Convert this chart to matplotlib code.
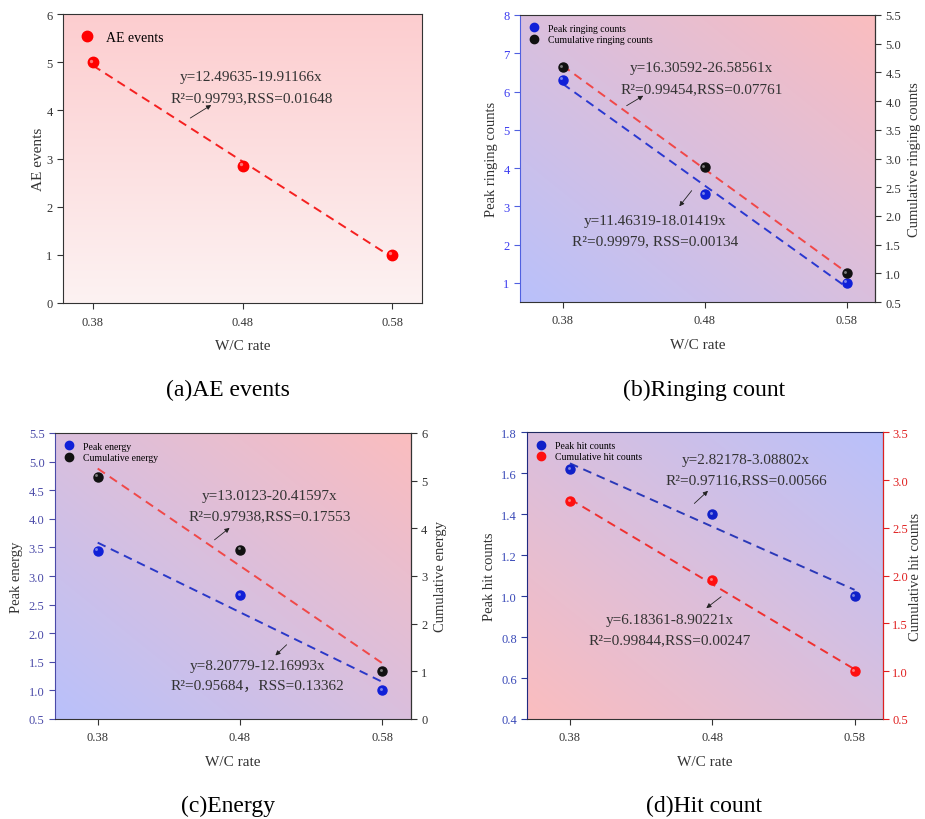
import numpy as np
import matplotlib.pyplot as plt
import matplotlib.colors as mcolors
from matplotlib.lines import Line2D
from matplotlib.transforms import offset_copy

plt.rcParams['font.family'] = ['Liberation Serif', 'Noto Sans CJK SC']

# ---- data ----
wc = [0.38, 0.48, 0.58]
wc_labels = ['0.38', '0.48', '0.58']

ae_events = [5.0, 2.85, 1.0]
ae_fit = (12.49635, -19.91166)

peak_ringing = [6.31, 3.32, 1.0]
cum_ringing = [4.59, 2.85, 1.0]
peak_ringing_fit = (16.30592, -26.58561)
cum_ringing_fit = (11.46319, -18.01419)

peak_energy = [3.44, 2.66, 1.0]
cum_energy = [5.08, 3.55, 1.0]
peak_energy_fit = (8.20779, -12.16993)
cum_energy_fit = (13.0123, -20.41597)

peak_hits = [1.62, 1.40, 1.0]
cum_hits = [2.78, 1.95, 1.0]
peak_hits_fit = (2.82178, -3.08802)
cum_hits_fit = (6.18361, -8.90221)

BLUE_BG = '#b9c1fb'
PINK_BG = '#fbbdbf'
DARK = '#333333'


def gradient(ax, c_from, c_to, mode='diag'):
    u = np.linspace(0, 1, 256)
    U, V = np.meshgrid(u, u)
    t = V if mode == 'vertical' else (U + V) / 2
    c0 = np.array(mcolors.to_rgb(c_from))
    c1 = np.array(mcolors.to_rgb(c_to))
    img = c0 + (c1 - c0) * t[..., None]
    ax.imshow(img, extent=(0, 1, 0, 1), transform=ax.transAxes, origin='lower',
              aspect='auto', zorder=0, interpolation='bilinear')


def balls(ax, x, y, color, size=7):
    # sphere-like marker: base dot plus a small highlight
    ax.plot(x, y, 'o', color=color, ms=size, mec=color, zorder=5, ls='none')
    hl = offset_copy(ax.transData, fig=ax.figure, x=-size * 0.16, y=size * 0.16, units='points')
    light = 0.55 * np.array(mcolors.to_rgb(color)) + 0.45
    ax.plot(x, y, 'o', color=light, ms=size * 0.32, mew=0, transform=hl, zorder=6, ls='none')


def fit_line(ax, fit, color):
    xs = np.array([wc[0], wc[-1]])
    ax.plot(xs, fit[0] + fit[1] * xs, ls=(0, (4.5, 3)), color=color, lw=1.4, zorder=3)


def note(ax, text, xy, head, tail, ha='center'):
    ax.text(xy[0], xy[1], text, ha=ha, va='center', fontsize=11, color=DARK,
            linespacing=1.75, zorder=7)
    ax.annotate('', xy=head, xytext=tail,
                arrowprops=dict(arrowstyle='-|>', color='#222222', lw=0.6,
                                mutation_scale=7, shrinkA=0, shrinkB=0), zorder=7)


def style_x(ax):
    ax.set_xlim(0.35, 0.60)
    ax.set_xticks(wc)
    ax.set_xticklabels(wc_labels)
    ax.set_xlabel('W/C rate', fontsize=11, color=DARK, labelpad=8)
    ax.tick_params(axis='x', direction='out', length=4, labelsize=9, colors=DARK, pad=5)


def small_legend(ax, colors, labels):
    ax.legend([Line2D([], [], marker='o', ls='none', color=c, ms=6) for c in colors], labels,
              loc='upper left', frameon=False, fontsize=7, handlelength=1.0,
              handletextpad=1.0, borderaxespad=0.6, borderpad=0.3, labelspacing=0.25)


fig = plt.figure(figsize=(9.25, 8.2), dpi=100)

# ---------- (a) AE events ----------
ax = fig.add_axes([63 / 925, 1 - 304 / 820, 359 / 925, 289 / 820])
gradient(ax, '#fdf2f2', '#fccdcf', mode='vertical')
fit_line(ax, ae_fit, '#f52020')
balls(ax, wc, ae_events, '#ff0000', size=7.5)
style_x(ax)
ax.set_xlim(0.36, 0.60)
ax.set_ylim(0, 6)
ax.set_yticks(range(0, 7))
ax.set_ylabel('AE events', fontsize=11, color=DARK, labelpad=1)
ax.tick_params(axis='y', direction='out', length=4, labelsize=9, colors=DARK)
for s in ax.spines.values():
    s.set_color(DARK)
ax.legend([Line2D([], [], marker='o', ls='none', color='#ff0000', ms=7.5)], ['AE events'],
          loc='upper left', frameon=False, fontsize=10, handlelength=1.0,
          handletextpad=0.9, borderaxespad=0.8, borderpad=0.4)
note(ax, 'y=12.49635-19.91166x\nR²=0.99793,RSS=0.01648', (0.486, 4.48),
     head=(0.4591, 4.11), tail=(0.4451, 3.84))

# ---------- (b) Ringing count ----------
ax = fig.add_axes([520 / 925, 1 - 303 / 820, 355 / 925, 287 / 820])
ax2 = ax.twinx()
gradient(ax, BLUE_BG, PINK_BG)
fit_line(ax, peak_ringing_fit, '#2a38d0')
fit_line(ax2, cum_ringing_fit, '#f04848')
balls(ax, wc, peak_ringing, '#1020d8', size=6.5)
balls(ax2, wc, cum_ringing, '#111111', size=6.5)
style_x(ax)
ax.set_ylim(0.5, 8)
ax.set_yticks(range(1, 9))
ax2.set_ylim(0.5, 5.5)
ax2.set_yticks(np.arange(0.5, 5.6, 0.5))
ax2.set_yticklabels([f'{v:.1f}' for v in np.arange(0.5, 5.6, 0.5)])
ax.set_ylabel('Peak ringing counts', fontsize=10.5, color=DARK, labelpad=4)
ax2.set_ylabel('Cumulative ringing counts', fontsize=10.5, color=DARK, labelpad=5)
ax.tick_params(axis='y', direction='out', length=4, labelsize=9, colors='#5060e0', labelcolor='#3b3bf0')
ax2.tick_params(axis='y', direction='out', length=4, labelsize=9, colors=DARK)
ax.spines['left'].set_color('#5060e0')
for k in ['top', 'bottom']:
    ax.spines[k].set_color(DARK)
ax2.spines['right'].set_color(DARK)
for k in ['left', 'top', 'bottom']:
    ax2.spines[k].set_visible(False)
small_legend(ax2, ['#1020d8', '#111111'], ['Peak ringing counts', 'Cumulative ringing counts'])
note(ax, 'y=16.30592-26.58561x\nR²=0.99454,RSS=0.07761', (0.478, 6.35),
     head=(0.4368, 5.89), tail=(0.4251, 5.63))
note(ax, 'y=11.46319-18.01419x\nR²=0.99979, RSS=0.00134', (0.445, 2.36),
     head=(0.4622, 3.0), tail=(0.4709, 3.41))

# ---------- (c) Energy ----------
ax = fig.add_axes([55 / 925, 1 - 720 / 820, 355.7 / 925, 286 / 820])
ax2 = ax.twinx()
gradient(ax, BLUE_BG, PINK_BG)
fit_line(ax, peak_energy_fit, '#2a38c8')
fit_line(ax2, cum_energy_fit, '#f04848')
balls(ax, wc, peak_energy, '#1020d8', size=6.5)
balls(ax2, wc, cum_energy, '#111111', size=6.5)
style_x(ax)
ax.set_ylim(0.5, 5.5)
ax.set_yticks(np.arange(0.5, 5.6, 0.5))
ax.set_yticklabels([f'{v:.1f}' for v in np.arange(0.5, 5.6, 0.5)])
ax2.set_ylim(0, 6)
ax2.set_yticks(range(0, 7))
ax.set_ylabel('Peak energy', fontsize=10.5, color=DARK, labelpad=4)
ax2.set_ylabel('Cumulative energy', fontsize=10.5, color=DARK, labelpad=5)
ax.tick_params(axis='y', direction='out', length=4, labelsize=9, colors='#4a4aa8')
ax2.tick_params(axis='y', direction='out', length=4, labelsize=9, colors=DARK)
ax.spines['left'].set_color('#4a4aa8')
for k in ['top', 'bottom']:
    ax.spines[k].set_color(DARK)
ax2.spines['right'].set_color(DARK)
for k in ['left', 'top', 'bottom']:
    ax2.spines[k].set_visible(False)
small_legend(ax2, ['#1020d8', '#111111'], ['Peak energy', 'Cumulative energy'])
note(ax, 'y=13.0123-20.41597x\nR²=0.97938,RSS=0.17553', (0.5007, 4.23),
     head=(0.4727, 3.841), tail=(0.4621, 3.632))
note(ax, 'y=8.20779-12.16993x\nR²=0.95684，RSS=0.13362', (0.4923, 1.26),
     head=(0.5049, 1.611), tail=(0.5128, 1.798))

# ---------- (d) Hit count ----------
ax = fig.add_axes([527.3 / 925, 1 - 720 / 820, 355.7 / 925, 286.7 / 820])
ax2 = ax.twinx()
gradient(ax, PINK_BG, BLUE_BG)
fit_line(ax, peak_hits_fit, '#2a38b8')
fit_line(ax2, cum_hits_fit, '#f03030')
balls(ax, wc, peak_hits, '#1020c8', size=6.5)
balls(ax2, wc, cum_hits, '#ff1010', size=6.5)
style_x(ax)
ax.set_ylim(0.4, 1.8)
ax.set_yticks(np.arange(0.4, 1.81, 0.2))
ax.set_yticklabels([f'{v:.1f}' for v in np.arange(0.4, 1.81, 0.2)])
ax2.set_ylim(0.5, 3.5)
ax2.set_yticks(np.arange(0.5, 3.51, 0.5))
ax2.set_yticklabels([f'{v:.1f}' for v in np.arange(0.5, 3.51, 0.5)])
ax.set_ylabel('Peak hit counts', fontsize=10.5, color=DARK, labelpad=4)
ax2.set_ylabel('Cumulative hit counts', fontsize=10.5, color=DARK, labelpad=1)
ax.tick_params(axis='y', direction='out', length=4, labelsize=9, colors='#2a3a9a', labelcolor='#3a4ab8')
ax2.tick_params(axis='y', direction='out', length=4, labelsize=9, colors='#e02020', pad=2.5)
ax.spines['left'].set_color('#202a80')
ax.spines['top'].set_color('#202a60')
ax.spines['bottom'].set_color(DARK)
ax2.spines['right'].set_color('#e02020')
for k in ['left', 'top', 'bottom']:
    ax2.spines[k].set_visible(False)
small_legend(ax2, ['#1020c8', '#ff1010'], ['Peak hit counts', 'Cumulative hit counts'])
note(ax, 'y=2.82178-3.08802x\nR²=0.97116,RSS=0.00566', (0.5037, 1.617),
     head=(0.4770, 1.514), tail=(0.4674, 1.4525))
note(ax, 'y=6.18361-8.90221x\nR²=0.99844,RSS=0.00247', (0.4498, 0.837),
     head=(0.4758, 0.9415), tail=(0.4862, 0.997))

# ---------- captions ----------
fig.text(228 / 925, 1 - 390 / 820, '(a)AE events', ha='center', va='center', fontsize=17)
fig.text(704 / 925, 1 - 390 / 820, '(b)Ringing count', ha='center', va='center', fontsize=17)
fig.text(228 / 925, 1 - 806 / 820, '(c)Energy', ha='center', va='center', fontsize=17)
fig.text(704 / 925, 1 - 806 / 820, '(d)Hit count', ha='center', va='center', fontsize=17)

fig.savefig('out.png', dpi=100)
